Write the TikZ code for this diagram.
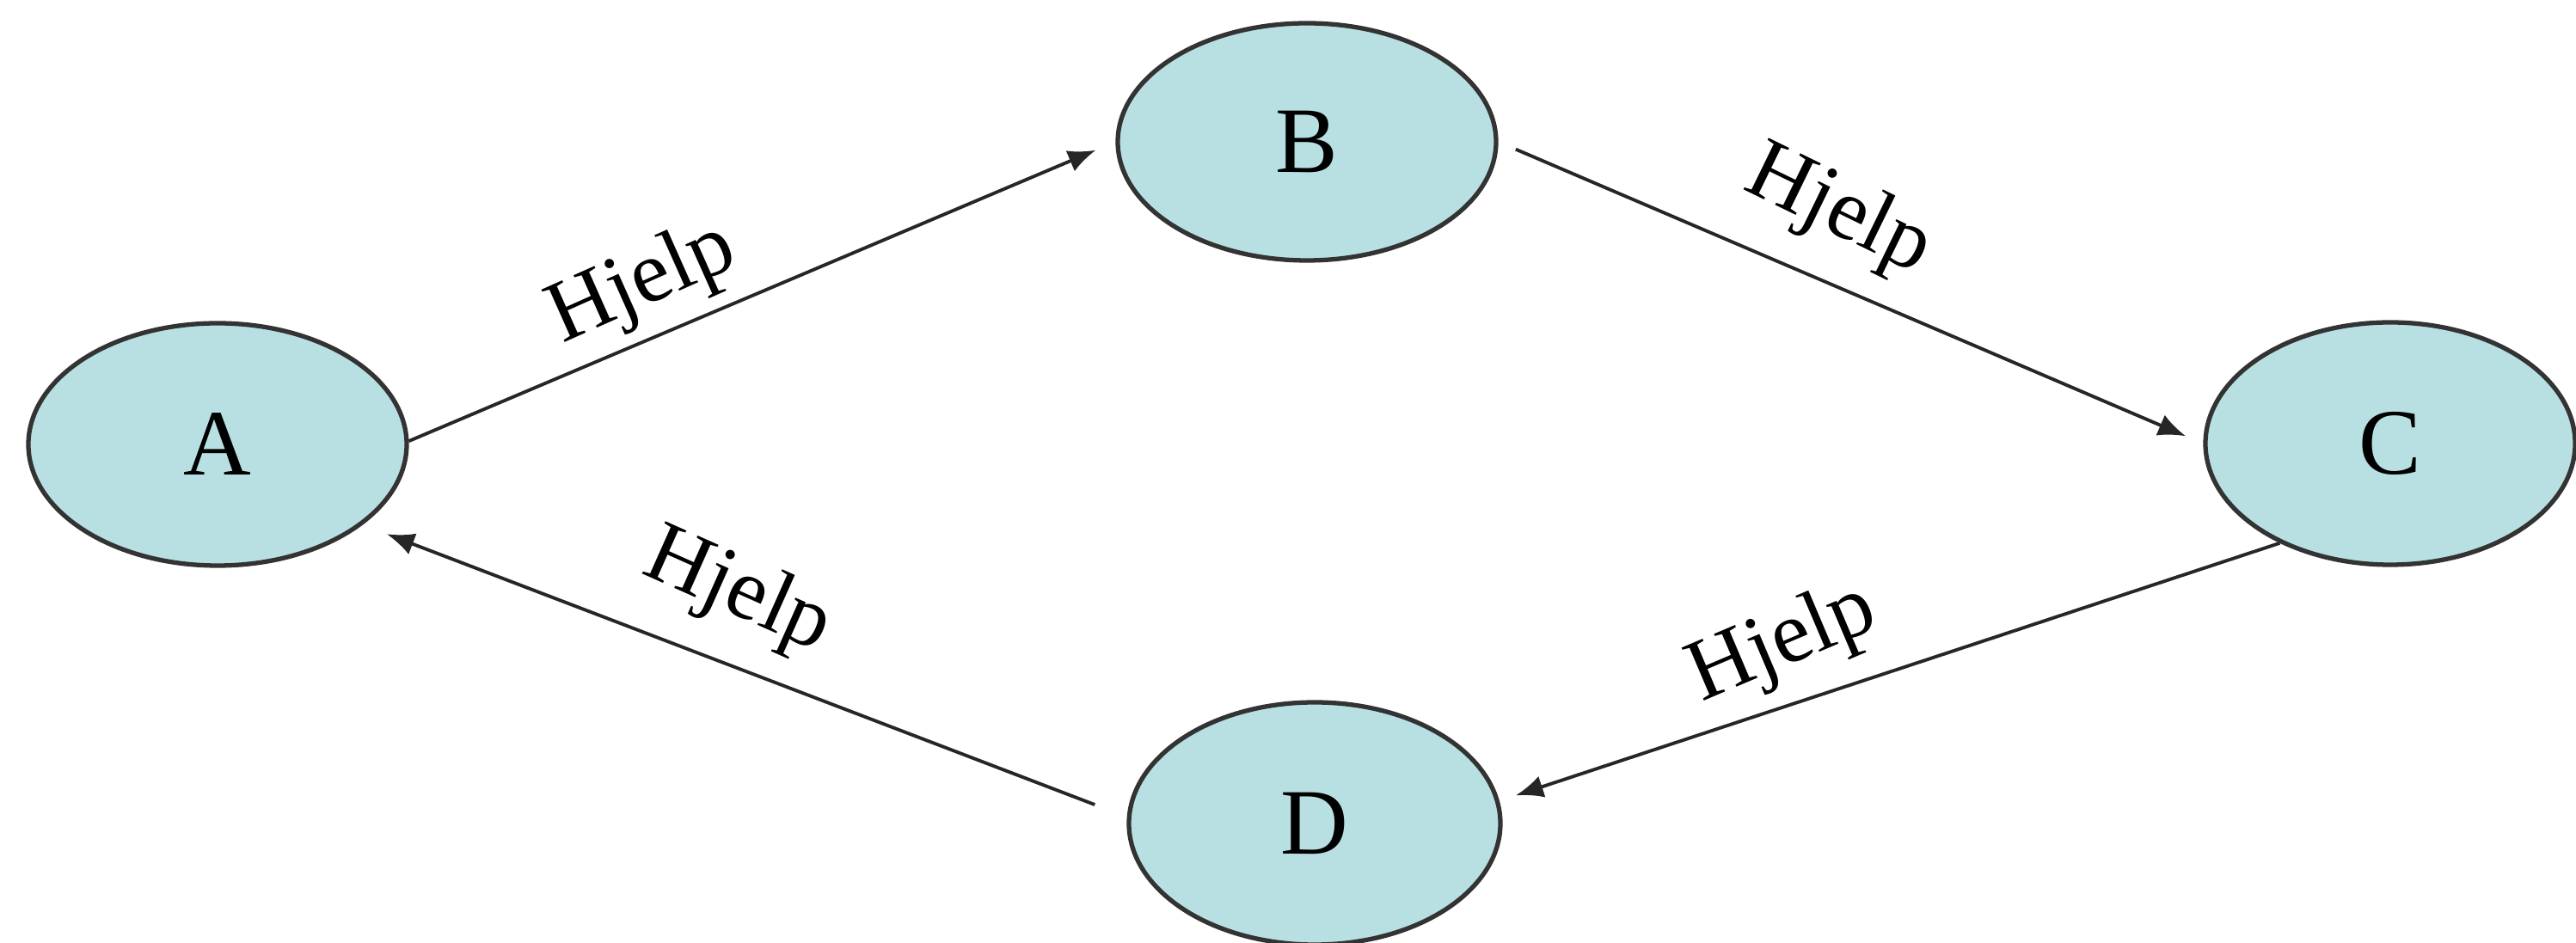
\documentclass[tikz,border=0pt]{standalone}
\usepackage{fontspec}
\setmainfont{Liberation Serif}
\usetikzlibrary{arrows.meta,shapes.geometric}
\definecolor{statefill}{RGB}{184,224,226}
\begin{document}
\begin{tikzpicture}[
  state/.style={ellipse, draw=black!80, line width=1.5pt, fill=statefill,
    minimum width=4.36cm, minimum height=2.8cm, inner sep=0pt,
    font=\fontsize{31}{37}\selectfont},
  link/.style={draw=black!85, line width=1.1pt,
    -{Latex[length=0.32cm,width=0.26cm]}},
  edgelabel/.style={font=\fontsize{29}{35}\selectfont, inner sep=0pt}
]
\fill[white] (0,0) rectangle (29.96,10.97);
\useasboundingbox (0,0) rectangle (29.96,10.97);

% states
\node[state, minimum width=4.40cm, minimum height=2.82cm] (A) at (2.53,5.80) {A};
\node[state, minimum width=4.40cm, minimum height=2.76cm] (B) at (15.20,9.32) {B};
\node[state, minimum width=4.30cm, minimum height=2.82cm] (C) at (27.80,5.81) {C};
\node[state, minimum width=4.32cm, minimum height=2.82cm] (D) at (15.29,1.39) {D};

% transitions
\draw[link, shorten >=0.25cm] (A.1) -- (B.west);
\draw[link, shorten <=0.22cm, shorten >=0.22cm] (B.east) -- (C.west);
\draw[link, shorten >=0.2cm] (C.222) -- (D.7);
\draw[link, shorten <=0.4cm, shorten >=0.3cm] (D.178) -- (A.331);

% transition labels
\node[edgelabel, rotate=24]  (lab1) at (7.48,7.66) {Hjelp};
\node[edgelabel, rotate=-26] (lab2) at (21.38,8.50) {Hjelp};
\node[edgelabel, rotate=-24] (lab3) at (8.58,4.07) {Hjelp};
\node[edgelabel, rotate=23]  (lab4) at (20.74,3.47) {Hjelp};
\end{tikzpicture}
\end{document}
